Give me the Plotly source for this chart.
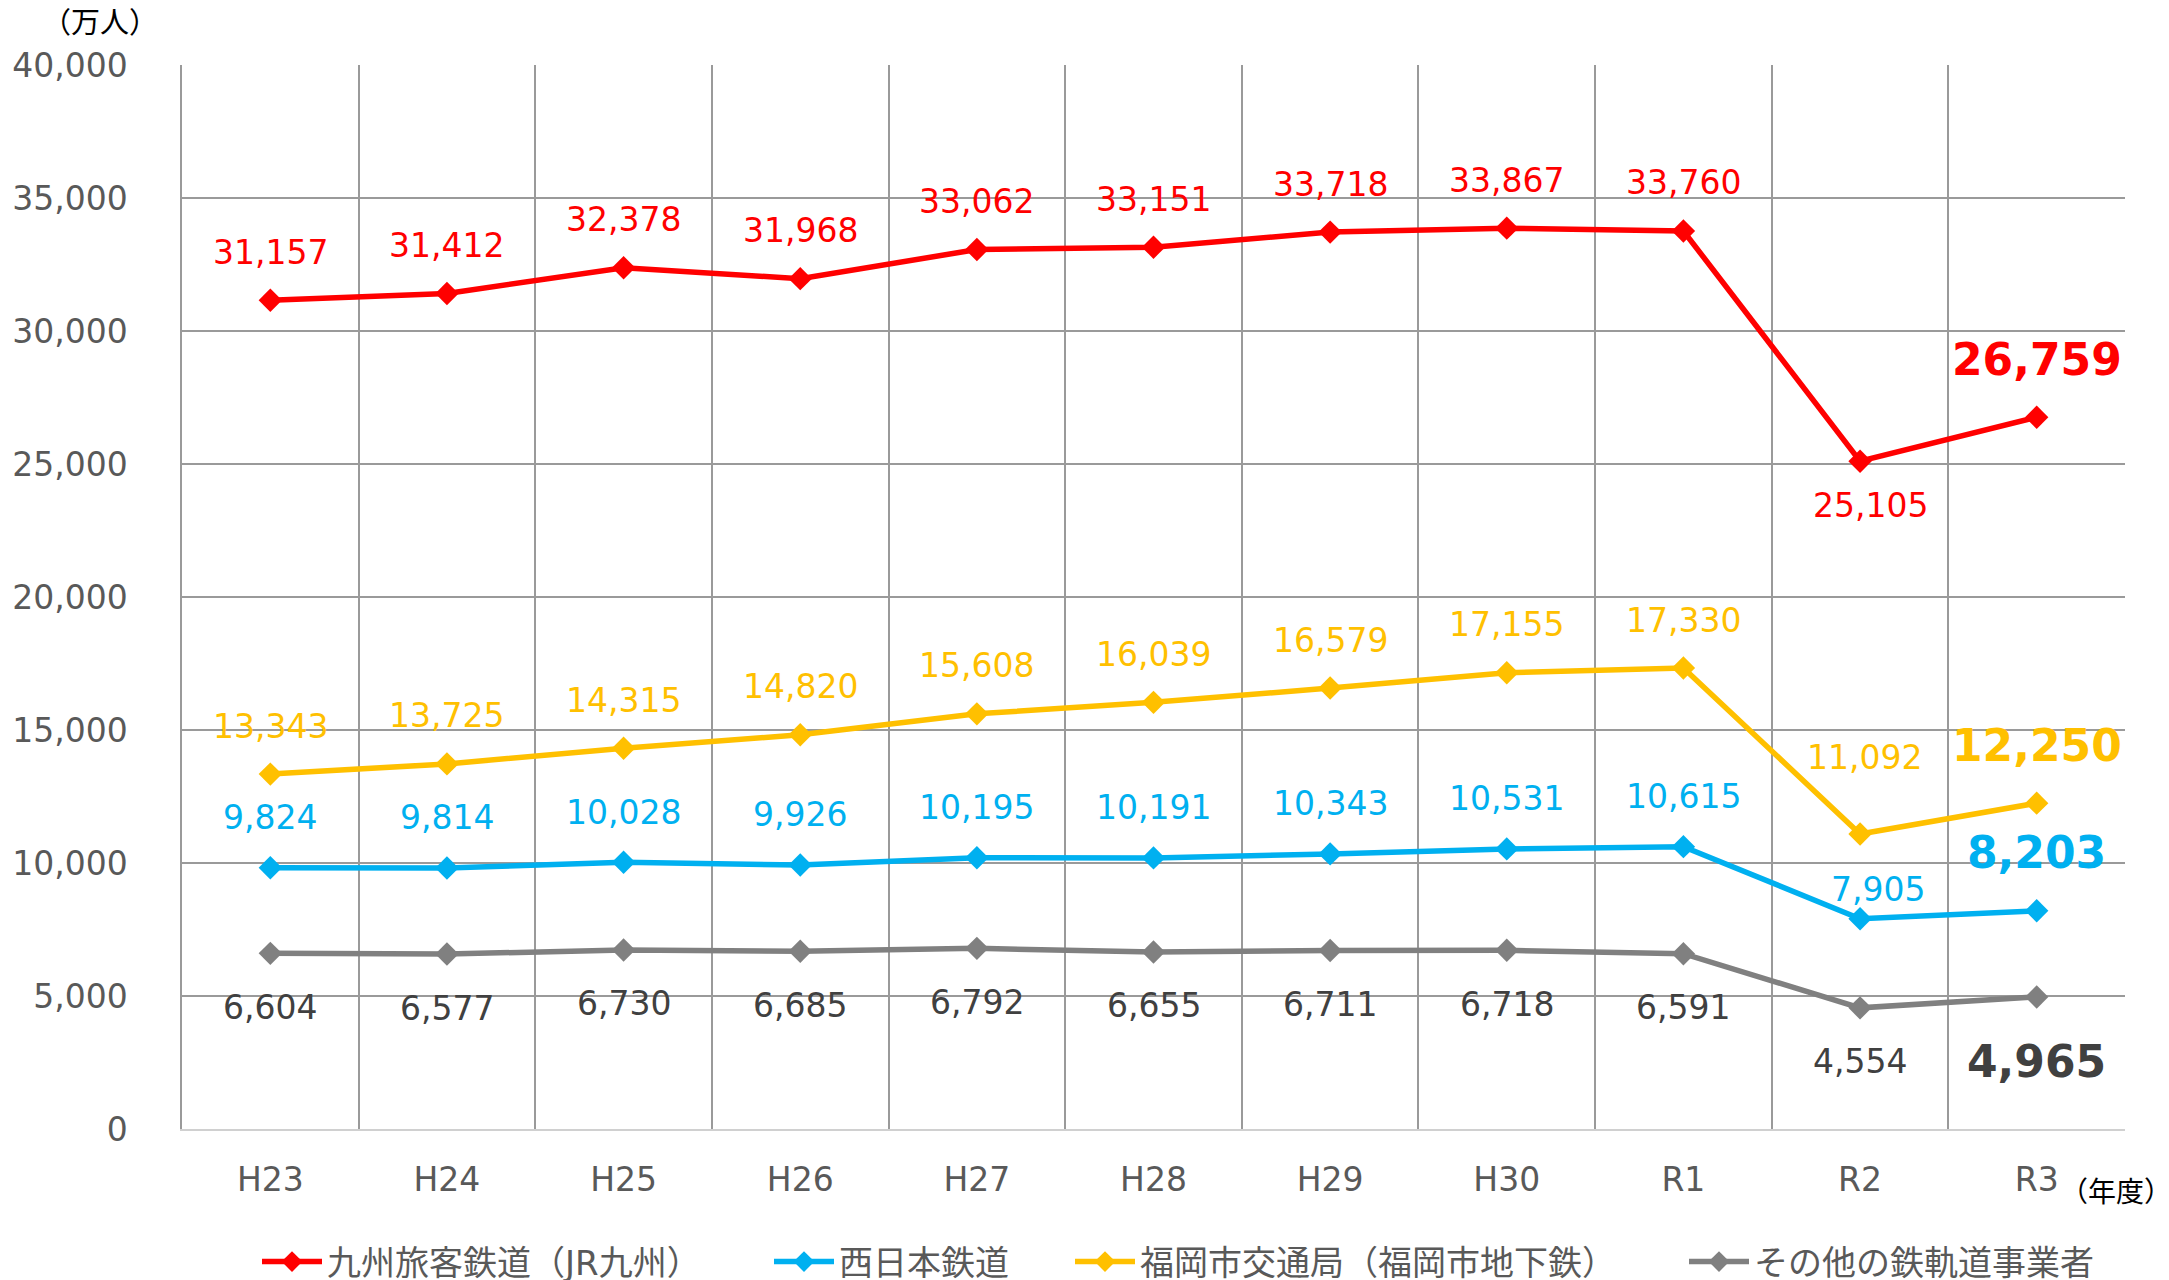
import plotly.graph_objects as go

years = ["H23", "H24", "H25", "H26", "H27", "H28", "H29", "H30", "R1", "R2", "R3"]
jr = [31157, 31412, 32378, 31968, 33062, 33151, 33718, 33867, 33760, 25105, 26759]
nishitetsu = [9824, 9814, 10028, 9926, 10195, 10191, 10343, 10531, 10615, 7905, 8203]
subway = [13343, 13725, 14315, 14820, 15608, 16039, 16579, 17155, 17330, 11092, 12250]
others = [6604, 6577, 6730, 6685, 6792, 6655, 6711, 6718, 6591, 4554, 4965]

names = ["九州旅客鉄道（JR九州）", "西日本鉄道", "福岡市交通局（福岡市地下鉄）", "その他の鉄軌道事業者"]
colors = ["#FF0000", "#00B0F0", "#FFC000", "#808080"]
label_colors = ["#FF0000", "#00B0F0", "#FFC000", "#404040"]
series = [jr, nishitetsu, subway, others]

FONT = "DejaVu Sans, Noto Sans CJK JP"

W, H = 2169, 1280
L, R, T, B = 177, 44, 65, 151
PW, PH = W - L - R, H - T - B


def px2paper(px, py):
    return (px - L) / PW, (H - B - py) / PH


# label offsets (pixels, + = above): normal, R2, R3
offsets = [
    (48, -44, 58),
    (50, 29, 58),
    (48, 76, 58),
    (-54, -54, -65),
]
r2_xshift = [10, 18, 4, 0]

fig = go.Figure()
legend_ids = ["legend", "legend2", "legend3", "legend4"]
for i, (nm, vals) in enumerate(zip(names, series)):
    fig.add_trace(go.Scatter(
        x=years, y=vals, name=nm, mode="lines+markers",
        line=dict(color=colors[i], width=5.5),
        marker=dict(symbol="diamond", size=18, color=colors[i]),
        legend=legend_ids[i],
    ))

annotations = []
for i, vals in enumerate(series):
    for j, (yr, v) in enumerate(zip(years, vals)):
        last = j == len(years) - 1
        if last:
            ys = offsets[i][2]
        elif yr == "R2":
            ys = offsets[i][1]
        else:
            ys = offsets[i][0]
        annotations.append(dict(
            x=yr, y=v, xref="x", yref="y", text=f"{v:,}", showarrow=False,
            yshift=ys, xshift=(r2_xshift[i] if yr == "R2" else 0),
            font=dict(family=FONT, size=44 if last else 33, color=label_colors[i],
                      weight="bold" if last else "normal"),
            xanchor="center", yanchor="middle",
        ))

ax, ay = px2paper(95, 23)
annotations.append(dict(text="（万人）", x=ax, y=ay, xref="paper", yref="paper",
                        showarrow=False, font=dict(family=FONT, size=29, color="#000000"),
                        xanchor="center", yanchor="middle"))
ax, ay = px2paper(2116, 1192)
annotations.append(dict(text="（年度）", x=ax, y=ay, xref="paper", yref="paper",
                        showarrow=False, font=dict(family=FONT, size=28, color="#000000"),
                        xanchor="center", yanchor="middle"))

leg_x = [257, 769, 1070, 1684]
layout_legends = {}
for k, lid in enumerate(legend_ids):
    layout_legends[lid] = dict(
        x=leg_x[k] / W, y=1 - 1262 / H, xref="container", yref="container",
        xanchor="left", yanchor="middle", orientation="h",
        font=dict(family=FONT, size=34, color="#595959"),
        itemwidth=60, bgcolor="rgba(0,0,0,0)", borderwidth=0,
    )

fig.update_layout(
    width=W, height=H,
    margin=dict(l=L, r=R, t=T, b=B),
    plot_bgcolor="white", paper_bgcolor="white",
    showlegend=True,
    annotations=annotations,
    **layout_legends,
)
fig.update_xaxes(
    type="category", tickson="boundaries", range=[-0.5, 10.5], autorange=False,
    showgrid=True, gridcolor="#9a9a9a", gridwidth=1.5,
    showline=True, linecolor="#d0d0d0", linewidth=1.5,
    ticks="", ticklabelstandoff=21,
    tickfont=dict(family=FONT, size=33, color="#595959"),
)
fig.update_yaxes(
    range=[0, 40000], dtick=5000, tickformat=",d",
    showgrid=True, gridcolor="#9a9a9a", gridwidth=1.5,
    zeroline=True, zerolinecolor="#d0d0d0", zerolinewidth=1.5,
    showline=True, linecolor="#9a9a9a", linewidth=1.5,
    ticks="outside", ticklen=46, tickcolor="rgba(0,0,0,0)",
    tickfont=dict(family=FONT, size=33, color="#595959"),
)

fig.write_html("out.html", config={"displayModeBar": False},
               post_script="document.body.style.margin='0';document.body.style.overflow='hidden';")
